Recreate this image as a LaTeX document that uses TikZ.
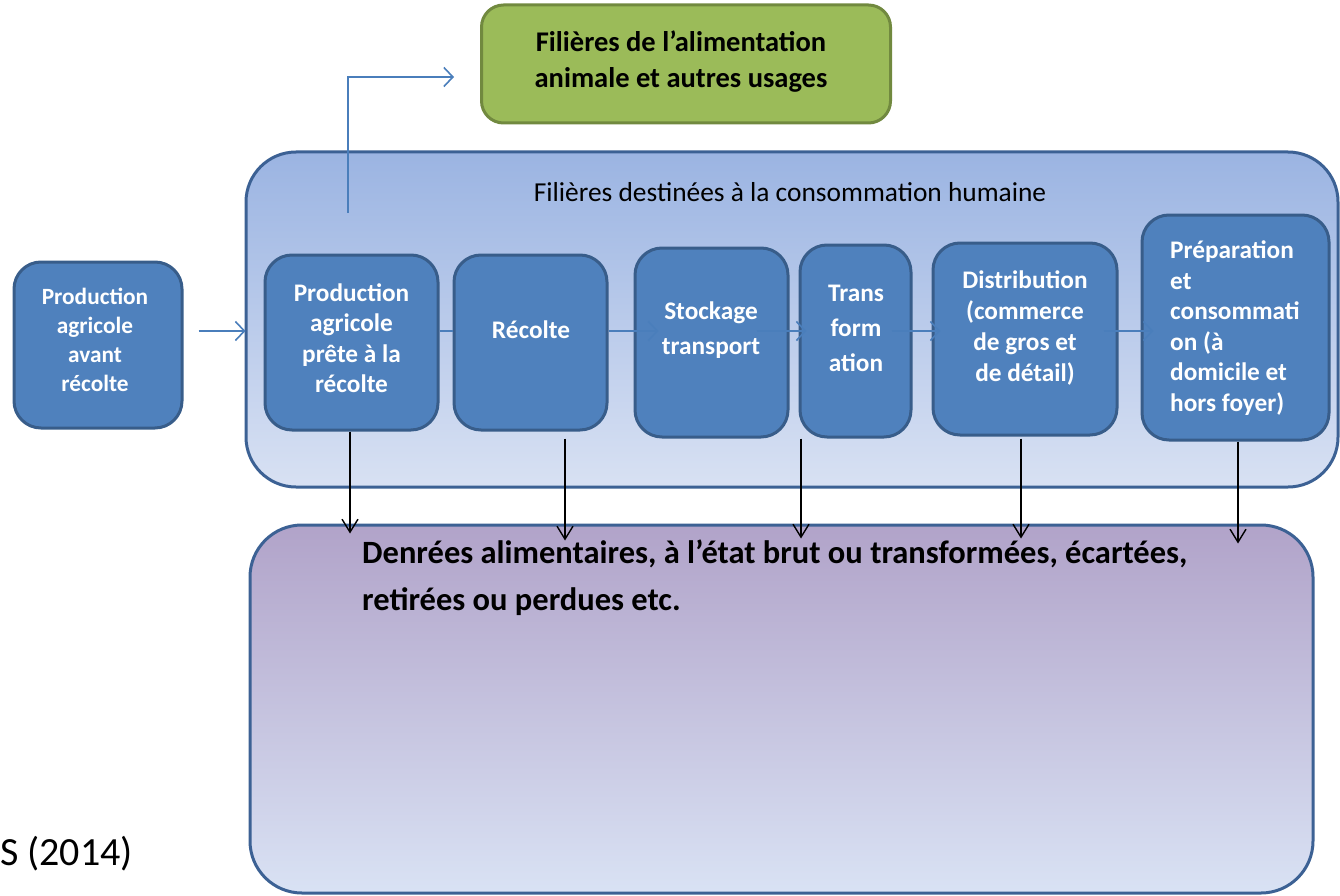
\documentclass[tikz,border=0pt]{standalone}
\usepackage{fontspec}
\setmainfont{Carlito}
\usetikzlibrary{arrows.meta,calc}
\definecolor{stagefill}{HTML}{4F81BD}
\definecolor{stageline}{HTML}{385D8A}
\definecolor{contline}{HTML}{3C6194}
\definecolor{conttop}{HTML}{9BB4E2}
\definecolor{contbot}{HTML}{D8E1F3}
\definecolor{purptop}{HTML}{B1A3C9}
\definecolor{purpmid}{HTML}{B9BCDE}
\definecolor{purpbot}{HTML}{D9E2F4}
\definecolor{greenfill}{HTML}{9BBB59}
\definecolor{greenline}{HTML}{71893F}
\definecolor{flowblue}{HTML}{4A7EBB}
\begin{document}
\begin{tikzpicture}[x=1pt,y=-1pt,
  stage/.style={draw=stageline, line width=3pt, fill=stagefill, rounded corners=27pt, inner sep=0pt},
  stagetxt/.style={text=white, font=\fontsize{25.3}{30.5}\selectfont\bfseries, align=center, inner sep=0pt},
  flow/.style={draw=flowblue, line width=1.6pt, -{Straight Barb[length=9pt,width=19pt,line width=1.6pt]}},
  flowline/.style={draw=flowblue, line width=1.6pt},
  loss/.style={draw=black, line width=1.4pt, -{Straight Barb[length=13pt,width=16pt,line width=1.4pt]}},
]
\useasboundingbox (0,0) rectangle (1340,896);

% containers
\node[draw=contline, line width=3pt, top color=conttop, bottom color=contbot,
      rounded corners=50pt, minimum width=1092pt, minimum height=335pt, inner sep=0pt]
      (cont) at (792,319.5) {};
\node[font=\fontsize{27.4}{32}\selectfont] (conttitle) at (790,192) {Filières destinées à la consommation humaine};

\node[draw=contline, line width=3pt, top color=purptop, middle color=purpmid, bottom color=purpbot,
      rounded corners=52pt, minimum width=1063pt, minimum height=368pt, inner sep=0pt]
      (pur) at (781.5,709) {};
\node[font=\fontsize{32.5}{47}\selectfont\bfseries, align=left, anchor=base west, inner sep=0pt]
      (purtxt) at (362,610) {Denrées alimentaires, à l’état brut ou transformées, écartées,\\retirées ou perdues etc.};

\node[draw=greenline, line width=3pt, fill=greenfill, rounded corners=22pt,
      minimum width=409pt, minimum height=118pt, inner sep=0pt] (green) at (686,64) {};
\node[font=\fontsize{28.5}{36}\selectfont\bfseries, align=center, inner sep=0pt] (greentxt) at (681,62)
      {Filières de l’alimentation\\animale et autres usages};

% left box
\node[stage, minimum width=168pt, minimum height=166pt] (pre) at (98,345) {};
\node[stagetxt, font=\fontsize{23.3}{29}\selectfont\bfseries] (pre-t) at (95,340) {Production\\agricole\\avant\\récolte};

% stages
\node[stage, minimum width=173pt, minimum height=175pt] (p1) at (351.5,342.5) {};
\node[stagetxt] (p1-t) at (351.5,338) {Production\\agricole\\prête à la\\récolte};
\node[stage, minimum width=153pt, minimum height=175pt] (p2) at (530.5,342.5) {};
\node[stagetxt] (p2-t) at (531,330) {Récolte};
\node[stage, minimum width=153pt, minimum height=189pt] (p3) at (711.5,342.5) {};
\node[stagetxt, font=\fontsize{25.3}{35}\selectfont\bfseries] (p3-t) at (711,330) {Stockage\\transport};
\node[stage, minimum width=111pt, minimum height=192pt] (p4) at (855.5,341) {};
\node[stagetxt, font=\fontsize{25.3}{35}\selectfont\bfseries] (p4-t) at (856,328) {Trans\\form\\ation};
\node[stage, minimum width=184pt, minimum height=192pt] (p5) at (1025,339) {};
\node[stagetxt, font=\fontsize{25.3}{31}\selectfont\bfseries] (p5-t) at (1025,328) {Distribution\\(commerce\\de gros et\\de détail)};
\node[stage, minimum width=187pt, minimum height=225pt] (p6) at (1235.5,327.5) {};
\node[stagetxt, align=left, anchor=west] (p6-t) at (1170,328) {Préparation\\et\\consommati\\on (à\\domicile et\\hors foyer)};

% flow arrows
\coordinate (fy) at (0,331);
\draw[flow, shorten <=15pt, shorten >=18pt] (pre.east |- fy) -- (p1.west |- fy);
\draw[flowline] (p1.east |- fy) -- (p2.west |- fy);
\draw[flow, shorten >=-25pt] (p2.east |- fy) -- (p3.west |- fy);
\draw[flow, shorten <=-33pt, shorten >=-8pt] (p3.east |- fy) -- (p4.west |- fy);
\draw[flow, shorten <=-21pt, shorten >=-9pt] (p4.east |- fy) -- (p5.west |- fy);
\draw[flow, shorten <=-15pt, shorten >=-13pt] (p5.east |- fy) -- (p6.west |- fy);

% branch to animal feed
\coordinate (fork) at (348,213);
\coordinate (gin) at (454,77);
\draw[flow] (fork) |- (gin);

% losses
\coordinate (x1) at (350,0);
\coordinate (x2) at (565,0);
\coordinate (x3) at (801,0);
\coordinate (x5) at (1021,0);
\coordinate (x6) at (1238,0);
\draw[loss, shorten >=-10pt] (p1.south -| x1) -- (pur.north -| x1);
\draw[loss, shorten <=7pt, shorten >=-17pt] (p2.south -| x2) -- (pur.north -| x2);
\draw[loss, shorten >=-15pt] (p4.south -| x3) -- (pur.north -| x3);
\draw[loss, shorten <=2pt, shorten >=-15pt] (p5.south -| x5) -- (pur.north -| x5);
\draw[loss, shorten >=-20pt] (p6.south -| x6) -- (pur.north -| x6);

% source
\node[font=\fontsize{40}{46}\selectfont, anchor=east, inner sep=0pt] (src) at (133,854) {S (2014)};
\end{tikzpicture}
\end{document}
